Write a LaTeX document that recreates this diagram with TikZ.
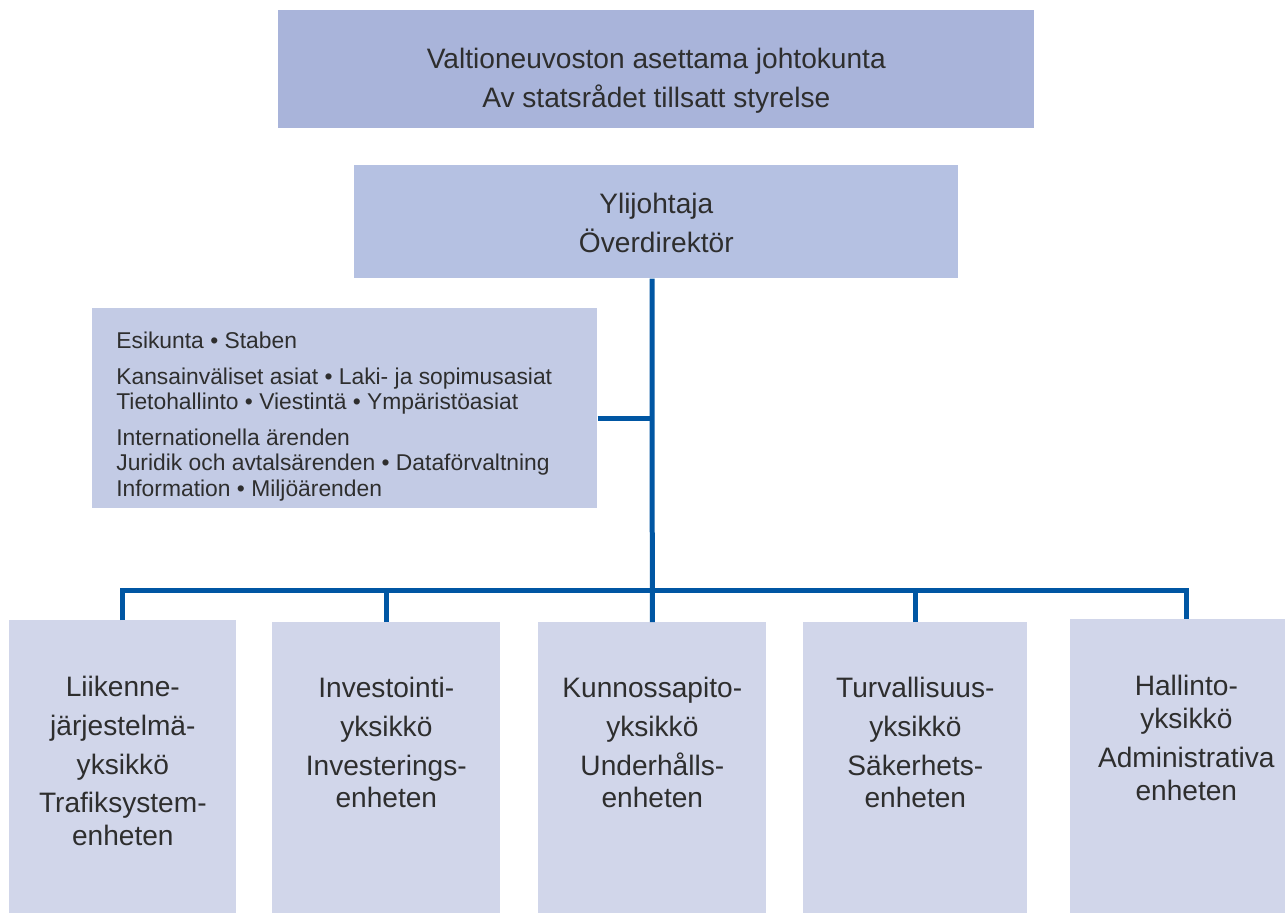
\documentclass[tikz,border=0pt]{standalone}
\usepackage{fontspec}
\setmainfont{Liberation Sans}
\usetikzlibrary{positioning}
\definecolor{boardfill}{HTML}{A9B4DA}
\definecolor{dirfill}{HTML}{B5C1E2}
\definecolor{stafffill}{HTML}{C3CBE5}
\definecolor{unitfill}{HTML}{D1D6EA}
\definecolor{linkblue}{HTML}{0056A3}
\definecolor{ink}{HTML}{2E2E2E}
\tikzset{
  box/.style={rectangle, inner sep=0pt, anchor=north west},
  board/.style={box, fill=boardfill, minimum width=15.12cm, minimum height=2.36cm},
  chief/.style={box, fill=dirfill, minimum width=12.08cm, minimum height=2.26cm},
  staffbox/.style={box, fill=stafffill, minimum width=10.1cm, minimum height=4cm},
  unit/.style={box, fill=unitfill, minimum height=6cm},
  txt/.style={inner sep=0pt, align=center, text=ink, font=\fontsize{16}{22}\selectfont},
  utxt/.style={inner sep=0pt, align=center, text=ink, font=\fontsize{16}{18.5}\selectfont},
  stxt/.style={inner sep=0pt, align=left, text=ink, font=\fontsize{13}{14.5}\selectfont},
  link/.style={draw=linkblue, line width=0.1cm}
}

\begin{document}
\begin{tikzpicture}[x=0.02cm, y=-0.02cm]
\useasboundingbox (0,0) rectangle (1285,913);
% boxes
\node[board] (board) at (278,10) {};
\node[chief] (dir) at (354,165) {};
\node[staffbox] (staff) at (92,308) {};
\node[unit, minimum width=4.54cm] (u1) at (9,620) {};
\node[unit, minimum width=4.56cm] (u2) at (272,622) {};
\node[unit, minimum width=4.56cm] (u3) at (538,622) {};
\node[unit, minimum width=4.48cm] (u4) at (803,622) {};
\node[unit, minimum width=4.64cm] (u5) at (1070,619) {};
% texts
\node[txt, below=0.76cm of board.north] (tboard) {Valtioneuvoston asettama johtokunta\\Av statsrådet tillsatt styrelse};
\node[txt, below=0.56cm of dir.north] (tdir) {Ylijohtaja\\Överdirektör};
\node[stxt, below right=0.48cm and 0.48cm of staff.north west] (tstaff) {Esikunta • Staben\\[5.7pt]
  Kansainväliset asiat • Laki- ja sopimusasiat\\
  Tietohallinto • Viestintä • Ympäristöasiat\\[5.7pt]
  Internationella ärenden\\
  Juridik och avtalsärenden • Dataförvaltning\\
  Information • Miljöärenden};
\node[utxt, below=1.12cm of u1.north] (t1) {Liikenne-\\[3.5pt]järjestelmä-\\[3.5pt]yksikkö\\[3.5pt]Trafiksystem-\\enheten};
\node[utxt, below=1.1cm of u2.north] (t2) {Investointi-\\[3.5pt]yksikkö\\[3.5pt]Investerings-\\enheten};
\node[utxt, below=1.1cm of u3.north] (t3) {Kunnossapito-\\[3.5pt]yksikkö\\[3.5pt]Underhålls-\\enheten};
\node[utxt, below=1.1cm of u4.north] (t4) {Turvallisuus-\\[3.5pt]yksikkö\\[3.5pt]Säkerhets-\\enheten};
\node[utxt, below=1.12cm of u5.north] (t5) {Hallinto-\\yksikkö\\[4pt]Administrativa\\enheten};
% connectors
\coordinate (bus) at (652,590);
\draw[link] (dir.south -| bus) -- (u3.north);
\draw[link] ([yshift=-0.2cm]staff.east) -- ([yshift=-0.2cm]staff.east -| bus);
\draw[link] (u1.north) |- (bus) -| (u5.north);
\foreach \i in {2,4}
  \draw[link] (u\i.north) -- (u\i.north |- bus);
\end{tikzpicture}
\end{document}
